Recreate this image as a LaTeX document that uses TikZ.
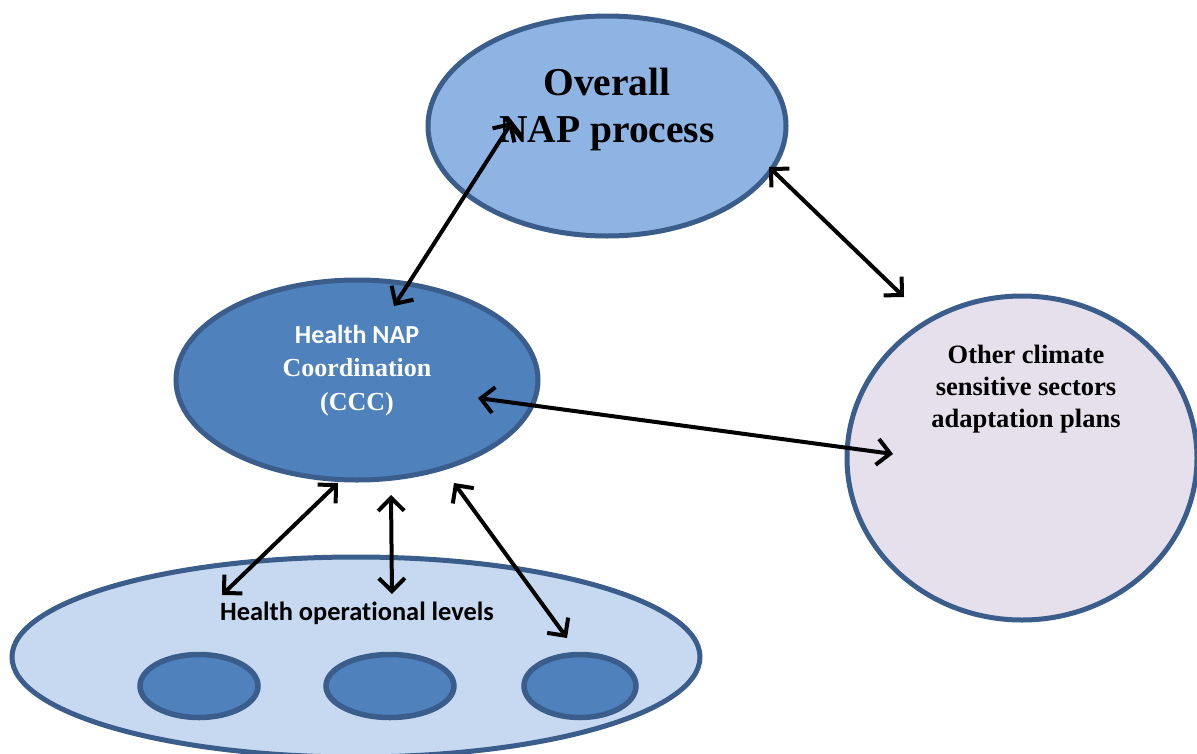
\documentclass[tikz,border=0pt]{standalone}
\usepackage{fontspec}
\setmainfont{Liberation Serif}
\newfontfamily\calibri[Ligatures=NoCommon]{Carlito}
\usetikzlibrary{shapes.geometric,arrows.meta}
\definecolor{bordc}{HTML}{3A5D8B}
\definecolor{topc}{HTML}{8EB4E3}
\definecolor{midc}{HTML}{4F81BD}
\definecolor{botc}{HTML}{C6D9F1}
\definecolor{rightc}{HTML}{E5E0EC}
\begin{document}
\begin{tikzpicture}[x=1pt,y=-1pt,
  blob/.style={ellipse, draw=bordc, line width=5pt, inner sep=0pt},
  small/.style={blob, fill=midc, line width=5.5pt, minimum height=63pt},
  link/.style={line width=4pt, {Straight Barb[length=13pt,width=26pt]}-{Straight Barb[length=13pt,width=26pt]}},
  lbl/.style={anchor=base, align=center, inner sep=0pt, font=\bfseries}
]
\useasboundingbox (0,0) rectangle (1197,753);
\clip (0,0) rectangle (1197,753);
% shapes
\node[blob, fill=topc, minimum width=358pt, minimum height=220pt] (top) at (607,126) {};
\node[blob, fill=midc, minimum width=362pt, minimum height=200pt] (mid) at (357,380) {};
\node[blob, fill=rightc, minimum width=350pt, minimum height=324pt] (right) at (1022,458) {};
\node[blob, fill=botc, minimum width=688pt, minimum height=200pt] (bot) at (356,657) {};
\node[small, minimum width=118pt] (s1) at (199,686) {};
\node[small, minimum width=128pt] (s2) at (390,686) {};
\node[small, minimum width=112pt] (s3) at (580,686) {};
% texts (base anchor = baseline of last line)
\node[lbl, font=\bfseries\fontsize{39.5}{47}\selectfont] (ttop) at (607,142) {Overall\\NAP process};
\node[lbl, text=white, font=\bfseries\fontsize{26}{33.5}\selectfont] (tmid) at (357,410) {{\calibri Health NAP}\\Coordination\\(CCC)};
\node[lbl, font=\bfseries\fontsize{26.5}{32}\selectfont] (tright) at (1026,427) {Other climate\\sensitive sectors\\adaptation plans};
\node[lbl, font=\calibri\bfseries\fontsize{26.4}{30}\selectfont] (tbot) at (357,620) {Health operational levels};
% arrow ends
\coordinate (a1s) at (512,122); \coordinate (a1e) at (394,306);
\coordinate (a2s) at (769,167); \coordinate (a2e) at (904,297);
\coordinate (a3s) at (478,398); \coordinate (a3e) at (893,454);
\coordinate (a4s) at (338,483); \coordinate (a4e) at (222,595);
\coordinate (a5s) at (391,495); \coordinate (a5e) at (392,594);
\coordinate (a6s) at (454,483); \coordinate (a6e) at (567,638);
\draw[link] (a1s) -- (a1e);
\draw[link] (a2s) -- (a2e);
\draw[link] (a3s) -- (a3e);
\draw[link] (a4s) -- (a4e);
\draw[link] (a5s) -- (a5e);
\draw[link] (a6s) -- (a6e);
\end{tikzpicture}
\end{document}
